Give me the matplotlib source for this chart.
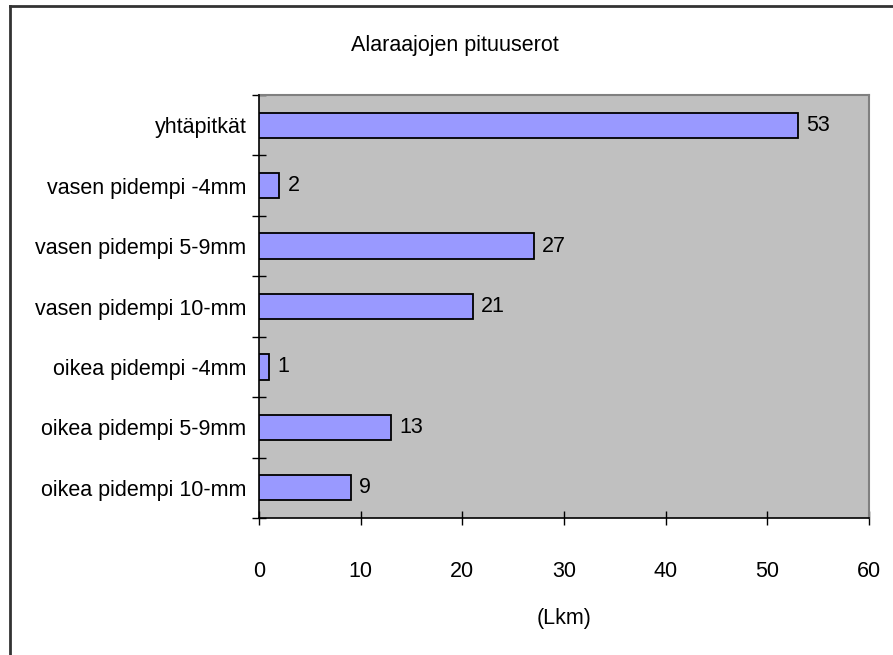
import numpy as np
from matplotlib import pyplot as plt
from matplotlib.lines import Line2D

plt.rcParams['font.family'] = ['Liberation Sans', 'DejaVu Sans']

# data
kategoriat = ['yhtäpitkät', 'vasen pidempi -4mm', 'vasen pidempi 5-9mm',
              'vasen pidempi 10-mm', 'oikea pidempi -4mm', 'oikea pidempi 5-9mm',
              'oikea pidempi 10-mm']
lkm = [53, 2, 27, 21, 1, 13, 9]
x_ticks = [0, 10, 20, 30, 40, 50, 60]

fs = 15.5

fig = plt.figure(figsize=(8.93, 6.55), dpi=100)
ax = fig.add_axes([259/893, 1-518/655, (869-259)/893, (518-95)/655])
ax.set_facecolor('#c0c0c0')

y = np.arange(len(kategoriat))
ax.barh(y, lkm, height=0.42, color='#9999ff', edgecolor='black', linewidth=1.3, zorder=3)

for yi, v in zip(y, lkm):
    ax.annotate(str(v), (v, yi), xytext=(6, 0), textcoords='offset points',
                va='center', ha='left', fontsize=fs)

ax.set_ylim(len(kategoriat) - 0.5, -0.5)
ax.set_xlim(0, 60)
ax.set_xticks(x_ticks)
ax.set_xticklabels([str(t) for t in x_ticks], fontsize=fs)
ax.set_yticks(np.arange(-0.5, len(kategoriat)))
ax.set_yticklabels([])
ax.set_yticks(y, minor=True)
ax.set_yticklabels(kategoriat, minor=True, fontsize=fs)
ax.tick_params(axis='y', which='minor', length=0, pad=9)
ax.tick_params(axis='y', which='major', direction='inout', length=10, width=1)
ax.tick_params(axis='x', direction='inout', length=10, width=1, pad=26)

for s in ['top', 'right']:
    ax.spines[s].set_visible(False)
ax.spines['left'].set_linewidth(1.2)
ax.spines['bottom'].set_linewidth(1.2)
ax.plot([1, 1], [0, 1], transform=ax.transAxes, color='#808080', lw=1.5, clip_on=False)
ax.plot([0, 1], [1, 1], transform=ax.transAxes, color='#808080', lw=1.5, clip_on=False)

ax.set_xlabel('(Lkm)', fontsize=fs, labelpad=19)
fig.text(455/893, 1-45/655, 'Alaraajojen pituuserot', ha='center', va='center', fontsize=fs)

# kehys
fig.add_artist(Line2D([10/893, 1], [1-6/655, 1-6/655], color='#333333', lw=2))
fig.add_artist(Line2D([10/893, 10/893], [0, 1-6/655], color='#333333', lw=2))

plt.savefig('out.png', dpi=100)
